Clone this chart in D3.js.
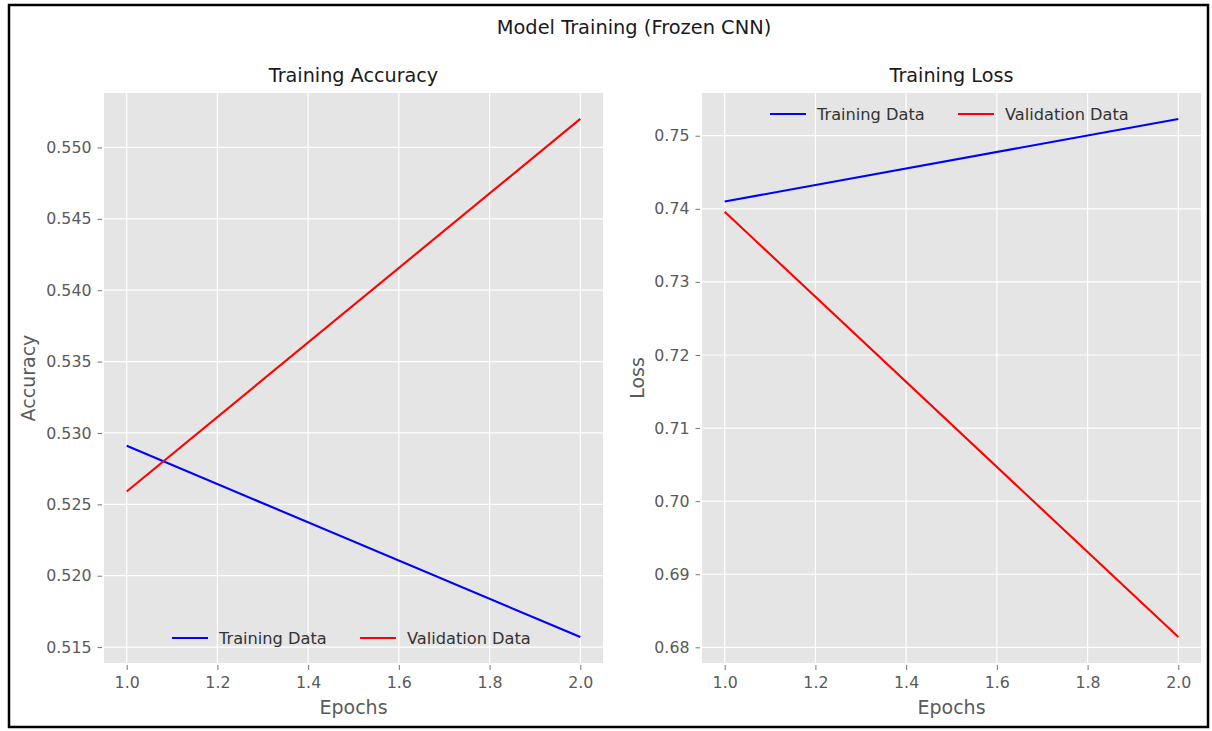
<!DOCTYPE html>
<html>
<head>
<meta charset="utf-8">
<script src="https://cdn.jsdelivr.net/npm/d3@7"></script>
<style>
  html, body { margin: 0; padding: 0; background: #fff; }
  svg text { font-family: "DejaVu Sans", sans-serif; }
</style>
</head>
<body>
<svg id="chart" width="1212" height="731"></svg>
<script>
// ---- data ----
const epochs = [1, 2];
const trainAcc = [0.5291, 0.5157];
const valAcc = [0.5259, 0.5520];
const trainLoss = [0.7410, 0.7523];
const valLoss = [0.7396, 0.6814];
const epochTicks = [1.0, 1.2, 1.4, 1.6, 1.8, 2.0];
const accTicks = [0.515, 0.520, 0.525, 0.530, 0.535, 0.540, 0.545, 0.550];
const lossTicks = [0.68, 0.69, 0.70, 0.71, 0.72, 0.73, 0.74, 0.75];
const seriesNames = ["Training Data", "Validation Data"];
const seriesColors = ["#0000ff", "#ff0000"];
const suptitle = "Model Training (Frozen CNN)";

const svg = d3.select("#chart");

// figure border
svg.append("rect").attr("x", 9).attr("y", 5).attr("width", 1199).attr("height", 722)
  .attr("fill", "#fff").attr("stroke", "#000").attr("stroke-width", 2.5);

svg.append("text").attr("x", 634).attr("y", 34).attr("text-anchor", "middle")
  .attr("font-size", 19.4).attr("fill", "#1a1a1a").text(suptitle);

function padDomain(vals) {
  const [lo, hi] = d3.extent(vals);
  const m = (hi - lo) * 0.05;
  return [lo - m, hi + m];
}

function panel(opts) {
  const { left, right, top, bottom, title, ylabel, ylabelX, series, yTicks, yFmt, legendPos } = opts;
  const x = d3.scaleLinear().domain(padDomain(epochs)).range([left, right]);
  const y = d3.scaleLinear().domain(padDomain(series.flat())).range([bottom, top]);
  const g = svg.append("g");

  g.append("rect").attr("x", left).attr("y", top).attr("width", right - left).attr("height", bottom - top)
    .attr("fill", "#e5e5e5");

  // grid
  g.selectAll(".gx").data(epochTicks).join("line")
    .attr("x1", d => x(d)).attr("x2", d => x(d)).attr("y1", top).attr("y2", bottom)
    .attr("stroke", "#fff").attr("stroke-width", 1.2);
  g.selectAll(".gy").data(yTicks).join("line")
    .attr("y1", d => y(d)).attr("y2", d => y(d)).attr("x1", left).attr("x2", right)
    .attr("stroke", "#fff").attr("stroke-width", 1.2);

  // axes
  const ax = g.append("g").attr("transform", `translate(0,${bottom + 2})`)
    .call(d3.axisBottom(x).tickValues(epochTicks).tickFormat(d3.format(".1f")).tickSizeInner(5).tickSizeOuter(0).tickPadding(7));
  const ay = g.append("g").attr("transform", `translate(${left - 2},0)`)
    .call(d3.axisLeft(y).tickValues(yTicks).tickFormat(d3.format(yFmt)).tickSizeInner(4.5).tickSizeOuter(0).tickPadding(6));
  [ax, ay].forEach(a => {
    a.select(".domain").remove();
    a.selectAll("line").attr("stroke", "#777");
    a.selectAll("text").attr("fill", "#5a5a5a").attr("font-size", 15.8).attr("font-family", "DejaVu Sans");
  });

  // lines
  const line = d3.line().x((d, i) => x(epochs[i])).y(d => y(d));
  series.forEach((s, k) => {
    g.append("path").datum(s).attr("d", line).attr("fill", "none")
      .attr("stroke", seriesColors[k]).attr("stroke-width", 2.1);
  });

  // titles and labels
  g.append("text").attr("x", (left + right) / 2).attr("y", 82).attr("text-anchor", "middle")
    .attr("font-size", 19.2).attr("fill", "#1a1a1a").text(title);
  g.append("text").attr("x", (left + right) / 2).attr("y", 714).attr("text-anchor", "middle")
    .attr("font-size", 19).attr("fill", "#5a5a5a").text("Epochs");
  g.append("text").attr("transform", `translate(${ylabelX},${(top + bottom) / 2}) rotate(-90)`)
    .attr("text-anchor", "middle").attr("font-size", 19).attr("fill", "#5a5a5a").text(ylabel);

  // legend
  const lg = g.append("g").attr("transform", `translate(${legendPos[0]},${legendPos[1]})`);
  const colStarts = [0, 188];
  seriesNames.forEach((n, k) => {
    lg.append("line").attr("x1", colStarts[k]).attr("x2", colStarts[k] + 36).attr("y1", 0).attr("y2", 0)
      .attr("stroke", seriesColors[k]).attr("stroke-width", 2);
    lg.append("text").attr("x", colStarts[k] + 47).attr("y", 0).attr("dy", "0.36em")
      .attr("font-size", 16.2).attr("fill", "#333").text(n);
  });
}

panel({ left: 104, right: 603, top: 93, bottom: 663, title: "Training Accuracy", ylabel: "Accuracy", ylabelX: 35,
  series: [trainAcc, valAcc], yTicks: accTicks, yFmt: ".3f", legendPos: [172, 638] });
panel({ left: 702, right: 1201, top: 93, bottom: 663, title: "Training Loss", ylabel: "Loss", ylabelX: 644,
  series: [trainLoss, valLoss], yTicks: lossTicks, yFmt: ".2f", legendPos: [770, 114] });
</script>
</body>
</html>
